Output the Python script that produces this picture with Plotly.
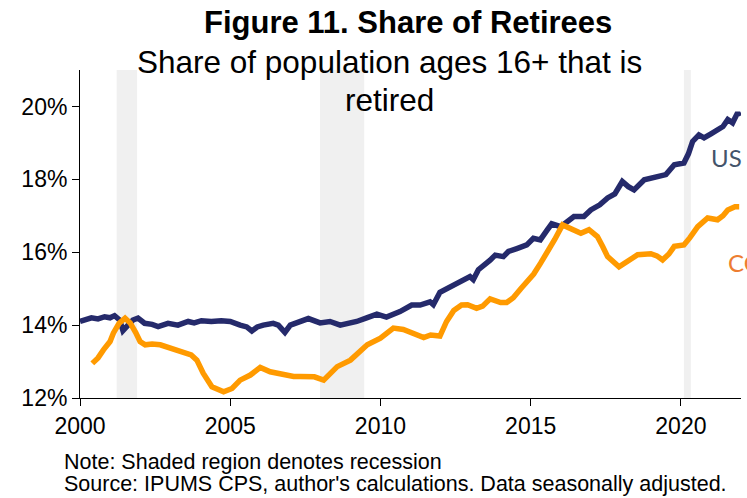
import plotly.graph_objects as go

# ---- data (decimal years, percent) ----
us_x = [2000.00, 2000.20, 2000.38, 2000.60, 2000.82, 2001.00, 2001.15, 2001.32, 2001.43, 2001.60,
        2001.76, 2001.93, 2002.15, 2002.40, 2002.60, 2002.93, 2003.26, 2003.60, 2003.80, 2004.04,
        2004.37, 2004.70, 2005.00, 2005.33, 2005.55, 2005.72, 2005.90, 2006.10, 2006.43, 2006.60,
        2006.82, 2007.00, 2007.30, 2007.60, 2007.99, 2008.32, 2008.66, 2008.90, 2009.21, 2009.54,
        2009.88, 2010.20, 2010.65, 2011.04, 2011.32, 2011.65, 2011.76, 2011.98, 2012.32, 2012.65,
        2012.98, 2013.09, 2013.26, 2013.65, 2013.82, 2014.09, 2014.26, 2014.54, 2014.87, 2015.09,
        2015.32, 2015.54, 2015.70, 2016.00, 2016.44, 2016.77, 2017.00, 2017.30, 2017.56, 2017.80,
        2018.05, 2018.25, 2018.44, 2018.78, 2019.10, 2019.50, 2019.78, 2020.10, 2020.25, 2020.39,
        2020.60, 2020.77, 2021.00, 2021.22, 2021.40, 2021.56, 2021.72, 2021.89, 2021.95]
us_y = [14.10, 14.15, 14.20, 14.17, 14.23, 14.20, 14.26, 14.14, 13.85, 14.00,
        14.14, 14.19, 14.05, 14.02, 13.96, 14.05, 14.00, 14.10, 14.06, 14.12,
        14.10, 14.12, 14.10, 14.00, 13.95, 13.84, 13.95, 14.00, 14.05, 14.00,
        13.80, 14.00, 14.08, 14.18, 14.06, 14.10, 14.00, 14.03, 14.10, 14.20,
        14.30, 14.22, 14.37, 14.55, 14.55, 14.64, 14.56, 14.90, 15.05, 15.22,
        15.33, 15.25, 15.52, 15.78, 15.92, 15.88, 16.02, 16.10, 16.20, 16.38,
        16.34, 16.60, 16.78, 16.70, 16.98, 16.98, 17.16, 17.30, 17.49, 17.60,
        17.94, 17.80, 17.71, 17.99, 18.04, 18.13, 18.40, 18.45, 18.70, 19.04,
        19.22, 19.14, 19.25, 19.36, 19.45, 19.64, 19.55, 19.83, 19.73]

co_x = [2000.41, 2000.60, 2000.78, 2001.00, 2001.11, 2001.30, 2001.50, 2001.67, 2001.85, 2002.00,
        2002.17, 2002.40, 2002.67, 2003.00, 2003.20, 2003.44, 2003.70, 2003.89, 2004.10, 2004.39,
        2004.60, 2004.78, 2005.06, 2005.33, 2005.67, 2006.00, 2006.33, 2006.67, 2006.90, 2007.11,
        2007.33, 2007.56, 2007.80, 2008.11, 2008.30, 2008.56, 2009.00, 2009.30, 2009.56, 2010.00,
        2010.43, 2010.76, 2011.10, 2011.44, 2011.67, 2011.98, 2012.20, 2012.44, 2012.70, 2012.90,
        2013.20, 2013.40, 2013.65, 2014.00, 2014.20, 2014.42, 2014.67, 2014.90, 2015.10, 2015.33,
        2015.60, 2015.80, 2016.06, 2016.33, 2016.67, 2016.94, 2017.22, 2017.40, 2017.56, 2017.94,
        2018.22, 2018.56, 2019.00, 2019.20, 2019.39, 2019.60, 2019.78, 2020.10, 2020.30, 2020.56,
        2020.89, 2021.22, 2021.40, 2021.56, 2021.80, 2021.94]
co_y = [12.95, 13.10, 13.32, 13.55, 13.78, 14.05, 14.19, 14.06, 13.80, 13.55,
        13.46, 13.48, 13.46, 13.37, 13.33, 13.27, 13.18, 13.04, 12.68, 12.31,
        12.22, 12.17, 12.26, 12.49, 12.63, 12.84, 12.72, 12.65, 12.62, 12.59,
        12.59, 12.57, 12.58, 12.49, 12.65, 12.86, 13.04, 13.25, 13.46, 13.64,
        13.92, 13.88, 13.78, 13.66, 13.73, 13.70, 14.10, 14.40, 14.55, 14.56,
        14.46, 14.52, 14.72, 14.62, 14.62, 14.75, 15.00, 15.20, 15.40, 15.70,
        16.05, 16.35, 16.75, 16.66, 16.52, 16.62, 16.43, 16.15, 15.88, 15.60,
        15.74, 15.93, 15.96, 15.90, 15.79, 15.95, 16.16, 16.20, 16.40, 16.70,
        16.94, 16.89, 17.00, 17.16, 17.25, 17.25]

recession_start = [2001.22, 2007.99, 2020.10]
recession_end = [2001.90, 2009.46, 2020.33]

x_ticks = [2000, 2005, 2010, 2015, 2020]
y_ticks = [12, 14, 16, 18, 20]

FONT = "Liberation Sans, Arial, sans-serif"
LABEL_FONT = "Lato, Open Sans, sans-serif"

fig = go.Figure()

for s, e in zip(recession_start, recession_end):
    fig.add_vrect(x0=s, x1=e, fillcolor="#F0F0F0", line_width=0, layer="below")

fig.add_trace(go.Scatter(x=us_x, y=us_y, mode="lines", name="US",
                         line=dict(color="#252A6B", width=5.5), showlegend=False))
fig.add_trace(go.Scatter(x=co_x, y=co_y, mode="lines", name="CO",
                         line=dict(color="#FF9A00", width=5.5), showlegend=False))

fig.update_layout(
    width=747, height=498,
    margin=dict(l=80, r=6, t=70, b=100, autoexpand=False),
    paper_bgcolor="white", plot_bgcolor="white",
    font=dict(family=FONT, color="black", size=23),
    xaxis=dict(range=[2000, 2022.0], tickvals=x_ticks, ticktext=[str(v) for v in x_ticks],
               showgrid=False, zeroline=False, showline=True, linecolor="black", linewidth=1,
               ticks="outside", ticklen=7, tickcolor="black", tickfont=dict(size=23),
               automargin=False),
    yaxis=dict(range=[12, 21], tickvals=y_ticks, ticktext=[f"{v}%" for v in y_ticks],
               showgrid=False, zeroline=False, showline=True, linecolor="black", linewidth=1,
               ticks="outside", ticklen=7, tickcolor="black", tickfont=dict(size=23),
               automargin=False),
)

# titles (positioned in paper coords relative to the plot area 80..741 x 70..398)
fig.add_annotation(text="<b>Figure 11. Share of Retirees</b>", xref="paper", yref="paper",
                   x=(408 - 80) / 661, y=1 + (70 - 23) / 328, showarrow=False,
                   font=dict(size=31, family=FONT), xanchor="center", yanchor="middle")
fig.add_annotation(text="Share of population ages 16+ that is", xref="paper", yref="paper",
                   x=(389 - 80) / 661, y=1 + (70 - 62) / 328, showarrow=False,
                   font=dict(size=31.5, family=FONT), xanchor="center", yanchor="middle")
fig.add_annotation(text="retired", xref="paper", yref="paper",
                   x=(389 - 80) / 661, y=1 + (70 - 100) / 328, showarrow=False,
                   font=dict(size=31.5, family=FONT), xanchor="center", yanchor="middle")

fig.add_annotation(text="US", x=2021.53, y=18.59, showarrow=False,
                   font=dict(size=24, family=LABEL_FONT, color="#44546A"))
fig.add_annotation(text="CO", x=2021.5, y=15.73, showarrow=False, xanchor="left",
                   font=dict(size=24, family=LABEL_FONT, color="#ED7D31"))

fig.add_annotation(text="Note: Shaded region denotes recession",
                   xref="paper", yref="paper", x=(62 - 80) / 661, y=-(462 - 398) / 328,
                   showarrow=False, xanchor="left", yanchor="middle",
                   font=dict(size=21.5, family=FONT))
fig.add_annotation(text="Source: IPUMS CPS, author's calculations. Data seasonally adjusted.",
                   xref="paper", yref="paper", x=(62 - 80) / 661, y=-(484 - 398) / 328,
                   showarrow=False, xanchor="left", yanchor="middle",
                   font=dict(size=21.5, family=FONT))

fig.write_html("out.html", config={"displayModeBar": False},
               post_script="document.body.style.margin='0px';")
